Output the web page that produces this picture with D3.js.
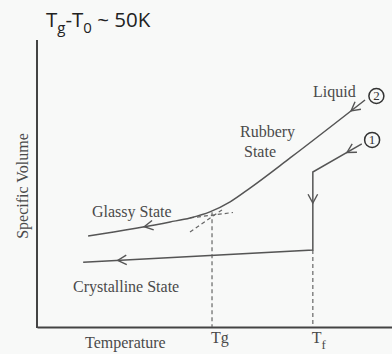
<!DOCTYPE html>
<html><head><meta charset="utf-8">
<script src="https://cdn.jsdelivr.net/npm/d3@7"></script>
<style>
html,body{margin:0;padding:0;background:#f8f9f8;}
svg{display:block;}
</style></head>
<body>
<svg id="c" width="392" height="354"></svg>
<script>
// ---- data (arbitrary units: temperature 0..100, specific volume 0..100) ----
const TG = 49.3;          // glass transition temperature
const TF = 77.7;          // melting temperature
const tickValues = [TG, TF];
const tickLabels = [["T","g",false], ["T","f",true]];   // [main, sub, subscript?]

// path 2 : liquid -> rubbery -> glassy (cooling)
const glassPath = [[92.4,79.1],[71.3,58.9],[60.0,48.4],[54.4,43.6],[48.7,40.1],[43.1,38.0],[37.5,36.6],[14.4,31.7]];
const glassArrows = [0.056, 0.82];
// path 1 : liquid -> crystallisation at Tf -> crystalline (cooling)
const crystPath = [[91.5,63.8],[77.7,54.0],[77.7,26.8],[13.0,22.6]];
const crystArrows = [0.047, 0.24, 0.905];
// extrapolation dashed lines
const liquidExtrap = [[43.1,33.1],[52.1,40.8]];
const glassExtrap = [[43.1,38.0],[55.2,39.9]];
// dashed drop lines
const dropLines = [[[TG,40.0],[TG,0]], [[TF,26.8],[TF,0]]];
// path markers
const markers = [{label:"2", x:95.6, y:80.5},{label:"1", x:94.4, y:65.2}];

const svg = d3.select("#c");
const x = d3.scaleLinear([0,100],[37,392]);
const y = d3.scaleLinear([0,100],[327,40]);
const lineCol = "#555", txtCol = "#4a4a4a";
const serif = "'Liberation Serif','Times New Roman',serif";

svg.append("rect").attr("width",392).attr("height",354).attr("fill","#f8f9f8");

// axes
const xa = svg.append("g").attr("transform","translate(0,327)")
  .call(d3.axisBottom(x).tickValues(tickValues).tickSize(0).tickSizeOuter(0).tickFormat(""));
const ya = svg.append("g").attr("transform","translate(37,0)")
  .call(d3.axisLeft(y).tickValues([]).tickSize(0).tickSizeOuter(0));
[xa,ya].forEach(g=>g.select(".domain").attr("stroke","#444").attr("stroke-width",2));
ya.select(".domain").attr("d", `M0,${y(100)}V${y(0)+1}`);

// tick labels
tickValues.forEach((v,i)=>{
  const [m,s,isSub] = tickLabels[i];
  const t = svg.append("text").attr("x", x(v)-1).attr("y",343)
    .attr("font-family",serif).attr("font-size",16).attr("fill",txtCol);
  t.append("tspan").text(m);
  if(isSub) t.append("tspan").attr("font-size",13).attr("dy",6).text(s);
  else t.append("tspan").text(s);
});

const line = d3.line().x(d=>x(d[0])).y(d=>y(d[1]));

// dashed lines
dropLines.concat([liquidExtrap, glassExtrap]).forEach(d=>{
  svg.append("path").attr("d",line(d)).attr("fill","none")
    .attr("stroke","#666").attr("stroke-width",1.2).attr("stroke-dasharray","4,3");
});

function drawPath(pts, curve, arrows){
  const p = svg.append("path").attr("d", line.curve(curve)(pts)).attr("fill","none")
    .attr("stroke",lineCol).attr("stroke-width",1.5);
  const node = p.node(), L = node.getTotalLength();
  arrows.forEach(f=>{
    const a = node.getPointAtLength(f*L), b = node.getPointAtLength(Math.max(0,f*L-2));
    const ang = Math.atan2(a.y-b.y, a.x-b.x);
    const len = 10, spread = 0.5;
    const p1 = [a.x - len*Math.cos(ang-spread), a.y - len*Math.sin(ang-spread)];
    const p2 = [a.x - len*Math.cos(ang+spread), a.y - len*Math.sin(ang+spread)];
    svg.append("path").attr("d",`M${p1}L${a.x},${a.y}L${p2}`).attr("fill","none")
      .attr("stroke",lineCol).attr("stroke-width",1.4);
  });
}
drawPath(glassPath, d3.curveMonotoneX, glassArrows);
drawPath(crystPath, d3.curveLinear, crystArrows);

// markers
markers.forEach(m=>{
  svg.append("circle").attr("cx",x(m.x)).attr("cy",y(m.y)).attr("r",7.5)
    .attr("fill","none").attr("stroke","#333").attr("stroke-width",1.5);
  svg.append("text").attr("x",x(m.x)).attr("y",y(m.y)+4.5).attr("text-anchor","middle")
    .attr("font-family",serif).attr("font-size",13).attr("fill","#333").text(m.label);
});

// labels
const lab = (t,xx,yy)=>svg.append("text").attr("x",xx).attr("y",yy).attr("font-family",serif)
  .attr("font-size",16).attr("fill",txtCol).text(t);
lab("Liquid",313,97);
lab("Rubbery",240,137);
lab("State",244,157);
lab("Glassy State",92,217);
lab("Crystalline State",73,292);
lab("Temperature",85,348);
svg.append("text").attr("transform","translate(28,186) rotate(-90)").attr("text-anchor","middle")
  .attr("font-family",serif).attr("font-size",16).attr("fill",txtCol).text("Specific Volume");

// title
const tt = svg.append("text").attr("x",46).attr("y",27).attr("font-family","'Open Sans',sans-serif")
  .attr("font-size",20.5).attr("fill","#222");
tt.append("tspan").text("T");
tt.append("tspan").attr("font-size",15).attr("dy",6).text("g");
tt.append("tspan").attr("dy",-6).text("-T");
tt.append("tspan").attr("font-size",15).attr("dy",6).text("0");
tt.append("tspan").attr("dy",-6).text(" ~ 50K");
</script>
</body></html>
